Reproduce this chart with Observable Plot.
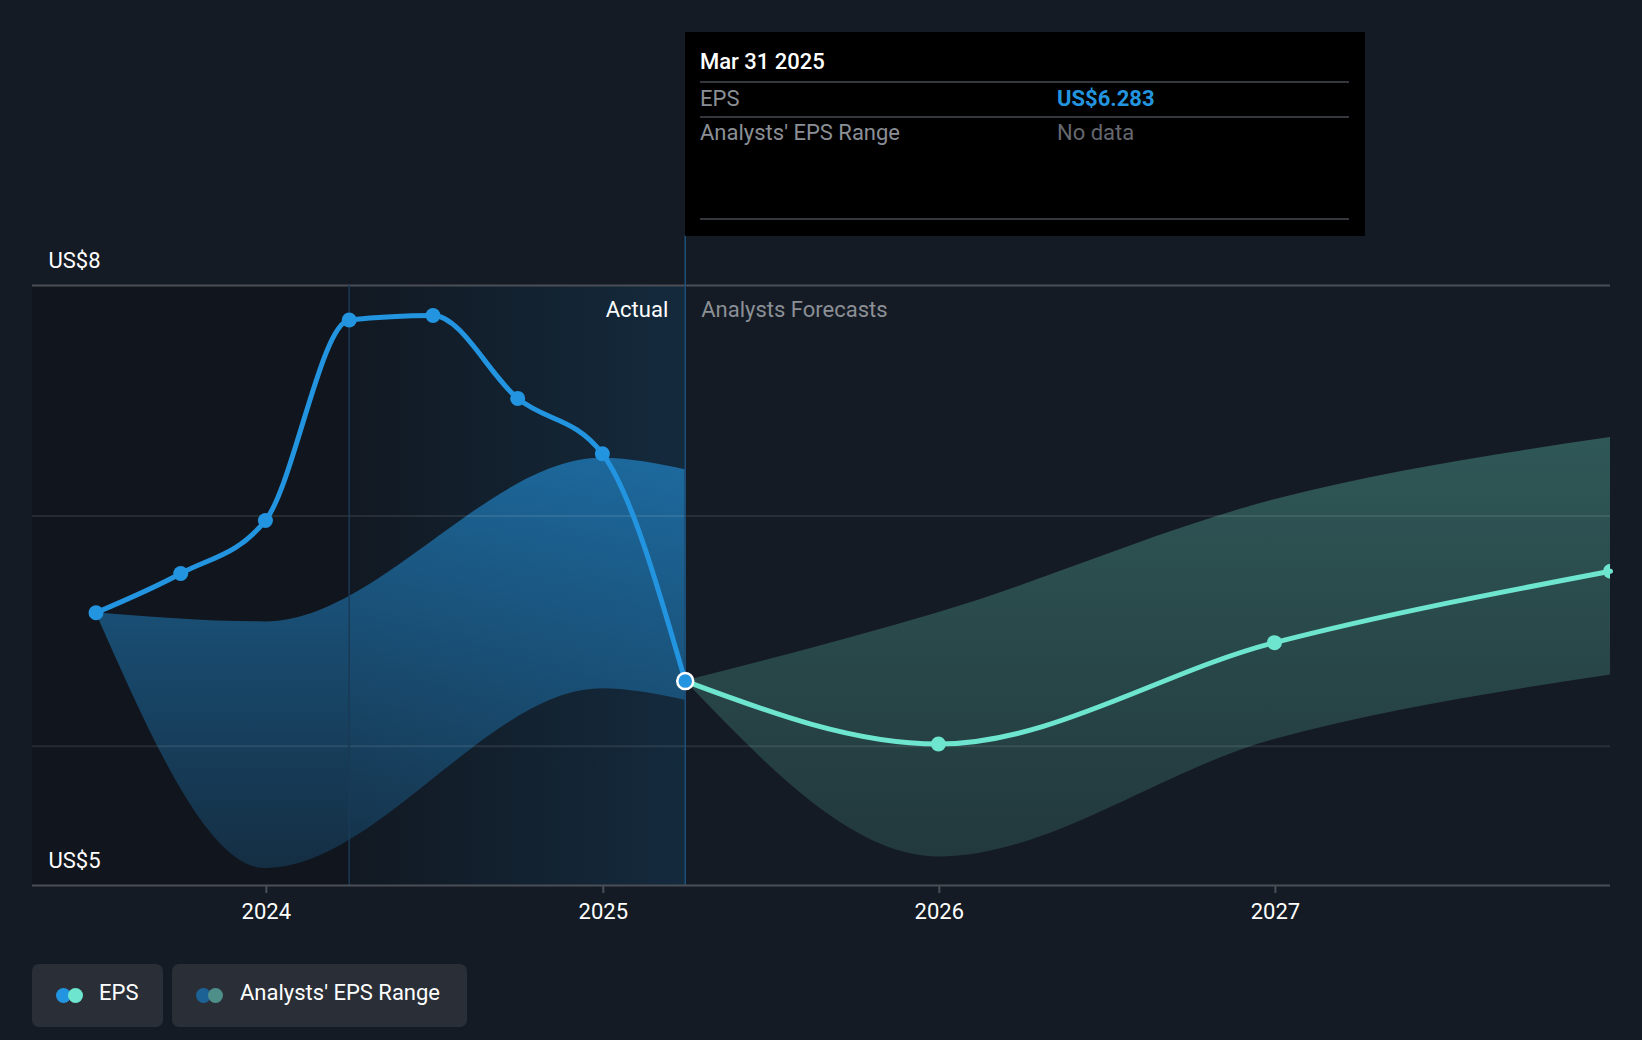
<!DOCTYPE html>
<html>
<head>
<meta charset="utf-8">
<script src="https://cdn.jsdelivr.net/npm/d3@7"></script>
<script src="https://cdn.jsdelivr.net/npm/@observablehq/plot@0.6"></script>
<style>
  html, body { margin: 0; padding: 0; background: #151b24; }
  body { width: 1642px; height: 1040px; overflow: hidden; font-family: Roboto, "Noto Sans", sans-serif; }
  #wrap { position: relative; width: 1642px; height: 1040px; }
  #chart { position: absolute; left: 0; top: 0; }
  .tip { position: absolute; left: 685px; top: 32px; width: 680px; height: 204px; background: #000; }
  .tip .t { position: absolute; left: 15px; color: #fff; font-size: 22px; font-weight: 500; }
  .tip .hl { position: absolute; left: 15px; width: 649px; height: 2px; background: #34373d; }
  .tip .lab { position: absolute; left: 15px; color: #8b8f96; font-size: 22px; }
  .tip .val { position: absolute; left: 372px; font-size: 22px; }
  .legend { position: absolute; top: 964px; height: 63px; background: #2a2e37; border-radius: 7px; }
  .legend .txt { position: absolute; top: -3px; line-height: 63px; color: #fff; font-size: 22px; }
  .legend .c { position: absolute; top: 24px; width: 15px; height: 15px; border-radius: 50%; }
</style>
</head>
<body>
<div id="wrap">
  <div id="chart"></div>
  <div class="tip">
    <div class="t" style="top:17px;">Mar 31 2025</div>
    <div class="hl" style="top:49px;"></div>
    <div class="lab" style="top:54px;">EPS</div>
    <div class="val" style="top:54px;color:#2394df;font-weight:700;">US$6.283</div>
    <div class="hl" style="top:84px;"></div>
    <div class="lab" style="top:88px;">Analysts' EPS Range</div>
    <div class="val" style="top:88px;color:#65686e;">No data</div>
    <div class="hl" style="top:186px;"></div>
  </div>
  <div class="legend" style="left:32px;width:131px;">
    <div class="c" style="left:24px;background:#2394df;"></div>
    <div class="c" style="left:36px;background:#6ee6cf;"></div>
    <div class="txt" style="left:67px;">EPS</div>
  </div>
  <div class="legend" style="left:172px;width:295px;">
    <div class="c" style="left:24px;background:#1d6294;"></div>
    <div class="c" style="left:36px;background:#4f8f89;"></div>
    <div class="txt" style="left:68px;">Analysts' EPS Range</div>
  </div>
</div>
<script>
// ---- data ----
const actualDates  = ["2023-06-30","2023-09-30","2023-12-31","2024-03-31","2024-06-30","2024-09-30","2024-12-31","2025-03-31"];
const actualEps    = [6.58, 6.75, 6.98, 7.85, 7.87, 7.51, 7.27, 6.283];

const forecastDates = ["2025-03-31","2025-12-31","2026-12-31","2027-12-31"];
const forecastEps   = [6.283, 6.01, 6.45, 6.76];
const forecastLow   = [6.283, 5.52, 6.03, 6.31];
const forecastHigh  = [6.283, 6.58, 7.07, 7.34];

const pastRangeDates = ["2023-06-30","2023-12-31","2024-12-31","2025-03-31"];
const pastRangeLow   = [6.58, 5.47, 6.25, 6.20];
const pastRangeHigh  = [6.58, 6.54, 7.25, 7.20];

const yearTicks = ["2024-01-01","2025-01-01","2026-01-01","2027-01-01"];
const yLabels = [{v: 8, label: "US$8"}, {v: 5.396, label: "US$5"}];
const gridValues = [6, 7];

const xDomain = ["2023-04-22", "2027-12-31"];
const yDomain = [5.396, 8];
const highlightStart = "2024-03-31";
const today = "2025-03-31";

// ---- tables ----
const D = s => new Date(s + "T00:00:00Z");
const actual = actualDates.map((d, i) => ({date: D(d), eps: actualEps[i]}));
const forecast = forecastDates.map((d, i) => ({date: D(d), eps: forecastEps[i], low: forecastLow[i], high: forecastHigh[i]}));
const pastRange = pastRangeDates.map((d, i) => ({date: D(d), low: pastRangeLow[i], high: pastRangeHigh[i]}));
const x0 = D(xDomain[0]), x1 = D(xDomain[1]);
const tHl = D(highlightStart), tNow = D(today);

const defs = () => {
  const svg = d3.create("svg:defs");
  const g1 = svg.append("linearGradient").attr("id", "pastBand").attr("gradientUnits", "userSpaceOnUse")
    .attr("x1", 0).attr("x2", 0).attr("y1", 440).attr("y2", 880);
  g1.append("stop").attr("offset", 0).attr("stop-color", "#2394df").attr("stop-opacity", 0.62);
  g1.append("stop").attr("offset", 1).attr("stop-color", "#2394df").attr("stop-opacity", 0.18);
  const g2 = svg.append("linearGradient").attr("id", "fcBand").attr("gradientUnits", "userSpaceOnUse")
    .attr("x1", 0).attr("x2", 0).attr("y1", 430).attr("y2", 870);
  g2.append("stop").attr("offset", 0).attr("stop-color", "#6ee6cf").attr("stop-opacity", 0.30);
  g2.append("stop").attr("offset", 1).attr("stop-color", "#6ee6cf").attr("stop-opacity", 0.14);
  const g3 = svg.append("linearGradient").attr("id", "hl")
    .attr("x1", 0).attr("x2", 1).attr("y1", 0).attr("y2", 0);
  g3.append("stop").attr("offset", 0).attr("stop-color", "#2394df").attr("stop-opacity", 0.02);
  g3.append("stop").attr("offset", 1).attr("stop-color", "#2394df").attr("stop-opacity", 0.16);
  return svg.node();
};

const chart = Plot.plot({
  width: 1642,
  height: 940,
  marginLeft: 32,
  marginRight: 32,
  marginTop: 285,
  marginBottom: 55,
  style: {background: "transparent", color: "#ffffff", fontFamily: "Roboto, sans-serif", overflow: "visible"},
  x: {type: "utc", domain: [x0, x1]},
  y: {domain: yDomain, axis: null},
  marks: [
    defs,
    Plot.rect([{a: x0, b: tNow}], {x1: "a", x2: "b", y1: yDomain[0], y2: yDomain[1], fill: "#000", fillOpacity: 0.15}),
    Plot.rect([{a: tHl, b: tNow}], {x1: "a", x2: "b", y1: yDomain[0], y2: yDomain[1], fill: "url(#hl)"}),
    Plot.areaY(pastRange, {x: "date", y1: "low", y2: "high", curve: "monotone-x", fill: "url(#pastBand)"}),
    Plot.areaY(forecast, {x: "date", y1: "low", y2: "high", curve: "monotone-x", fill: "url(#fcBand)"}),
    Plot.ruleY(gridValues, {stroke: "#ffffff", strokeOpacity: 0.09, strokeWidth: 2}),
    Plot.ruleY([yDomain[1]], {stroke: "#4a4e57", strokeWidth: 2}),
    Plot.ruleX([tHl], {y1: yDomain[1], y2: yDomain[0], stroke: "#1a3a56", strokeWidth: 1.5}),
    Plot.ruleX([tNow], {y1: yDomain[1], y2: yDomain[0], insetTop: -50, stroke: "#1d507a", strokeWidth: 1.5}),
    Plot.ruleY([yDomain[0]], {stroke: "#4a4e57", strokeWidth: 2}),
    Plot.axisX(yearTicks.map(D), {tickFormat: d3.utcFormat("%Y"), tickSize: 8, tickPadding: 10, fontSize: 22, stroke: "#4a4e57", strokeWidth: 2, fill: "#ffffff", label: null}),
    Plot.line(forecast, {x: "date", y: "eps", curve: "monotone-x", stroke: "#6ee6cf", strokeWidth: 5}),
    Plot.line(actual, {x: "date", y: "eps", curve: "monotone-x", stroke: "#2394df", strokeWidth: 5}),
    Plot.dot(actual.slice(0, -1), {x: "date", y: "eps", r: 7.5, fill: "#2394df"}),
    Plot.dot(forecast.slice(1), {x: "date", y: "eps", r: 7.5, fill: "#6ee6cf", clip: true}),
    Plot.dot(actual.slice(-1), {x: "date", y: "eps", r: 8, fill: "#2394df", stroke: "#ffffff", strokeWidth: 2.5}),
    Plot.text(["Actual"], {x: tNow, y: yDomain[1], dx: -17, dy: 24, textAnchor: "end", fill: "#ffffff", fontSize: 22}),
    Plot.text(["Analysts Forecasts"], {x: tNow, y: yDomain[1], dx: 16, dy: 24, textAnchor: "start", fill: "#8b8f96", fontSize: 22}),
    Plot.text(yLabels, {x: x0, y: "v", text: "label", dx: 16, dy: -25, textAnchor: "start", fill: "#ffffff", fontSize: 22})
  ]
});
document.getElementById("chart").appendChild(chart);
</script>
</body>
</html>
